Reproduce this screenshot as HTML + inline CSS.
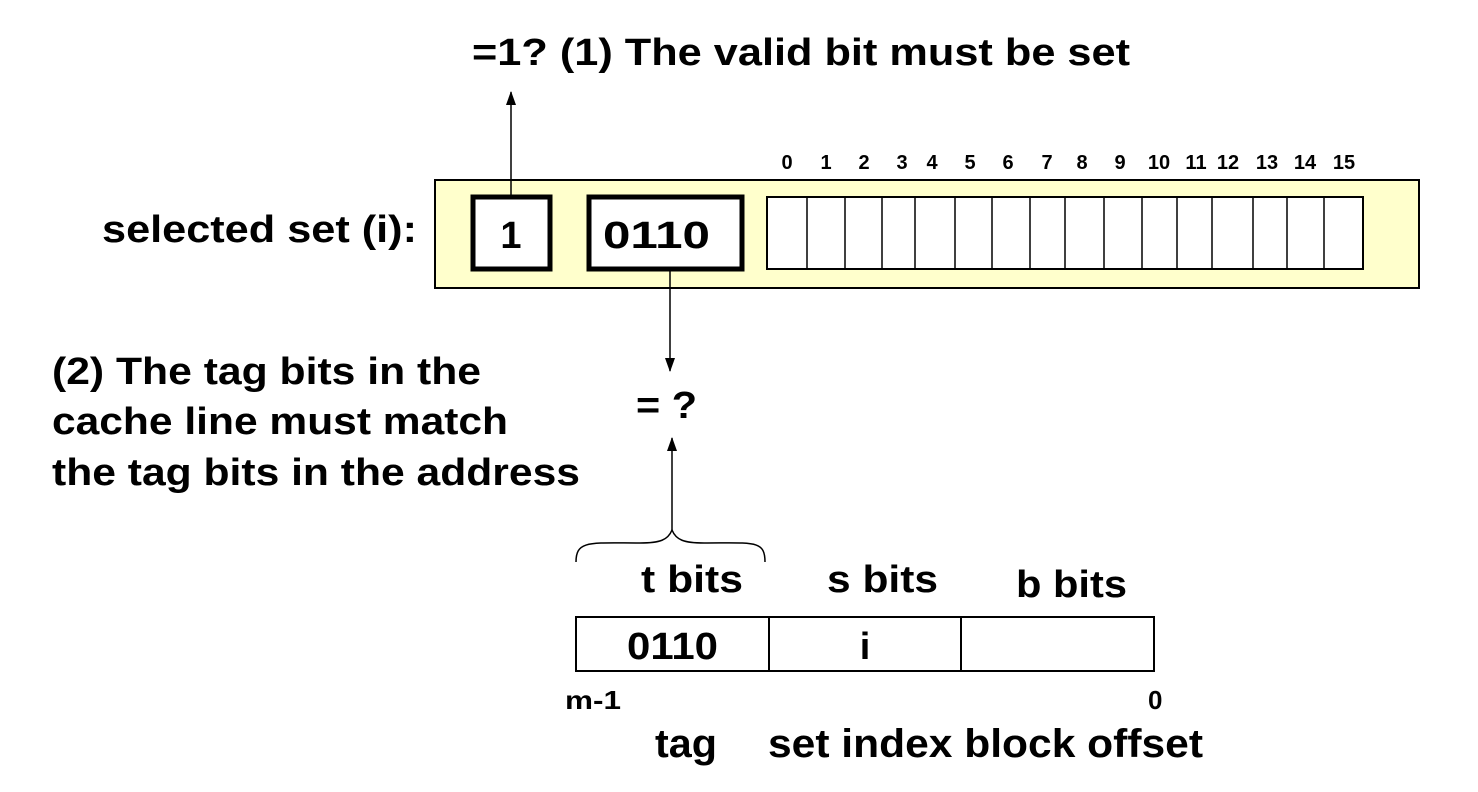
<!DOCTYPE html>
<html><head><style>body{margin:0;background:#fff}svg{display:block}text{font-family:"Liberation Sans",Arial,sans-serif;font-weight:bold;fill:#000}</style></head>
<body>
<svg width="1478" height="792" viewBox="0 0 1478 792" xmlns="http://www.w3.org/2000/svg">
<defs><marker id="a" markerWidth="14" markerHeight="10" refX="13" refY="5" orient="auto" markerUnits="userSpaceOnUse"><path d="M0,0 L14,5 L0,10 Z" fill="#000"/></marker></defs>
<text x="472" y="65" font-size="38" textLength="658" lengthAdjust="spacingAndGlyphs">=1?  (1) The valid bit must be set</text>
<rect x="435" y="180" width="984" height="108" fill="#ffffcc" stroke="#000" stroke-width="2"/>
<rect x="473" y="197" width="77" height="72" fill="#fff" stroke="#000" stroke-width="5"/>
<rect x="589" y="197" width="153" height="72" fill="#fff" stroke="#000" stroke-width="5"/>
<text x="511" y="248" font-size="38" text-anchor="middle">1</text>
<text x="603" y="248" font-size="38" textLength="107" lengthAdjust="spacingAndGlyphs">0110</text>
<rect x="767" y="197" width="596" height="72" fill="#fff" stroke="#000" stroke-width="2"/>
<g stroke="#000" stroke-width="1.5">
<line x1="807" y1="197" x2="807" y2="269"/><line x1="845" y1="197" x2="845" y2="269"/><line x1="882" y1="197" x2="882" y2="269"/><line x1="915" y1="197" x2="915" y2="269"/><line x1="955" y1="197" x2="955" y2="269"/><line x1="992" y1="197" x2="992" y2="269"/><line x1="1030" y1="197" x2="1030" y2="269"/><line x1="1065" y1="197" x2="1065" y2="269"/><line x1="1104" y1="197" x2="1104" y2="269"/><line x1="1142" y1="197" x2="1142" y2="269"/><line x1="1177" y1="197" x2="1177" y2="269"/><line x1="1212" y1="197" x2="1212" y2="269"/><line x1="1253" y1="197" x2="1253" y2="269"/><line x1="1287" y1="197" x2="1287" y2="269"/><line x1="1324" y1="197" x2="1324" y2="269"/>
</g>
<g font-size="20" text-anchor="middle">
<text x="787" y="169">0</text><text x="826" y="169">1</text><text x="864" y="169">2</text><text x="902" y="169">3</text><text x="932" y="169">4</text><text x="970" y="169">5</text><text x="1008" y="169">6</text><text x="1047" y="169">7</text><text x="1082" y="169">8</text><text x="1120" y="169">9</text><text x="1159" y="169">10</text><text x="1196" y="169">11</text><text x="1228" y="169">12</text><text x="1267" y="169">13</text><text x="1305" y="169">14</text><text x="1344" y="169">15</text>
</g>
<text x="102" y="242" font-size="38" textLength="315" lengthAdjust="spacingAndGlyphs">selected set (i):</text>
<line x1="511" y1="195" x2="511" y2="92" stroke="#000" stroke-width="1.5" marker-end="url(#a)"/>
<line x1="670" y1="270" x2="670" y2="371" stroke="#000" stroke-width="1.5" marker-end="url(#a)"/>
<text x="636" y="418" font-size="38" textLength="61" lengthAdjust="spacingAndGlyphs">= ?</text>
<line x1="672" y1="530" x2="672" y2="438" stroke="#000" stroke-width="1.5" marker-end="url(#a)"/>
<path d="M576,562 C576,540 590,543 640,543 C660,543 668,540 672,530 C676,540 684,543 704,543 C754,543 765,540 765,562" fill="none" stroke="#000" stroke-width="1.5"/>
<text x="52" y="384" font-size="38" textLength="429" lengthAdjust="spacingAndGlyphs">(2) The tag bits in the</text>
<text x="52" y="434" font-size="38" textLength="456" lengthAdjust="spacingAndGlyphs">cache line must match</text>
<text x="52" y="485" font-size="38" textLength="528" lengthAdjust="spacingAndGlyphs">the tag bits in the address</text>
<text x="641" y="592" font-size="38" textLength="102" lengthAdjust="spacingAndGlyphs">t bits</text>
<text x="827" y="592" font-size="38" textLength="111" lengthAdjust="spacingAndGlyphs">s bits</text>
<text x="1016" y="597" font-size="38" textLength="111" lengthAdjust="spacingAndGlyphs">b bits</text>
<rect x="576" y="617" width="578" height="54" fill="#fff" stroke="#000" stroke-width="2"/>
<line x1="769" y1="617" x2="769" y2="671" stroke="#000" stroke-width="2"/>
<line x1="961" y1="617" x2="961" y2="671" stroke="#000" stroke-width="2"/>
<text x="627" y="659" font-size="38" textLength="91" lengthAdjust="spacingAndGlyphs">0110</text>
<text x="865" y="659" font-size="38" text-anchor="middle">i</text>
<text x="565" y="709" font-size="26" textLength="56" lengthAdjust="spacingAndGlyphs">m-1</text>
<text x="1148" y="709" font-size="26">0</text>
<text x="655" y="757" font-size="40" textLength="62" lengthAdjust="spacingAndGlyphs">tag</text>
<text x="768" y="757" font-size="40" textLength="435" lengthAdjust="spacingAndGlyphs">set index block offset</text>
</svg>
</body></html>
